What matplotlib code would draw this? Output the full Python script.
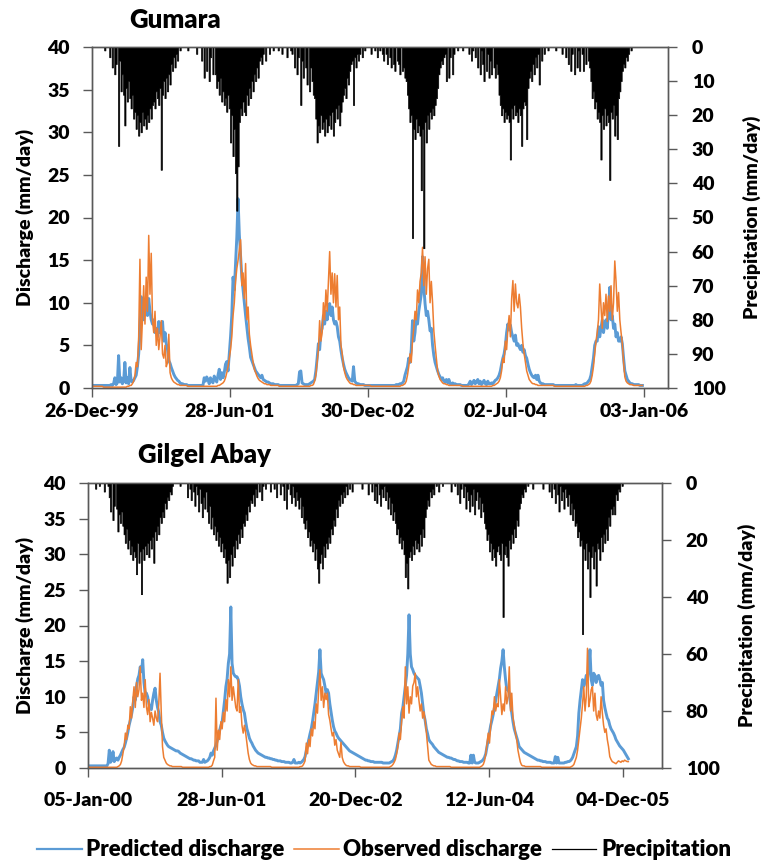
import numpy as np
import matplotlib
matplotlib.use("Agg")
import matplotlib.pyplot as plt
import matplotlib.dates as mdates
from matplotlib.lines import Line2D

plt.rcParams['font.family'] = ['Lato', 'DejaVu Sans']
plt.rcParams['font.weight'] = 'heavy'

BLUE = '#5B9BD5'
ORANGE = '#ED7D31'
SPINE = '#595959'

years = [2000, 2001, 2002, 2003, 2004, 2005]
step = 5  # one reading every 5 days, starting 1 Jan of each year

# ---------------- Gumara ----------------
gum_pred = [
    [0.3,0.3,0.3,0.3,0.3,0.3, 0.3,0.3,0.3,0.3,0.3,0.3, 0.3,0.3,0.4,0.3,0.5,1.2, 0.4,0.6,3.8,0.7,1.2,0.5,
     0.8,3.0,0.6,1.2,0.5,2.4, 0.8,0.7,0.9,1.2,1.5,2.5, 4.0,6.5,10.7,9.0,8.0,9.5, 10.2,8.5,10.5,9.0,8.0,7.5,
     8.0,6.5,7.0,6.0,7.8,6.5, 7.5,7.8,5.5,6.5,5.2,4.5, 3.2,2.9,2.4,2.0,1.6,1.3, 1.1,0.9,0.8,0.6,0.5,0.5, 0.4],
    [0.4,0.4,0.3,0.3,0.3,0.3, 0.3,0.3,0.3,0.3,0.3,0.3, 0.3,0.3,0.3,1.2,0.8,1.3, 1.0,0.5,1.2,0.8,0.6,1.4,
     1.0,0.7,1.5,2.2,1.0,1.8, 1.2,1.8,2.8,3.1,2.0,4.0, 6.0,8.5,13.0,11.5,14.5,17.7, 22.2,18.0,15.4,13.0,11.5,10.0,
     8.5,7.2,5.8,4.8,3.6,3.2, 2.8,2.4,2.0,1.8,1.6,1.4, 1.2,1.5,1.0,0.9,0.8,0.7, 0.7,0.6,0.5,0.5,0.5,0.4, 0.4],
    [0.4,0.4,0.3,0.3,0.3,0.3, 0.3,0.3,0.3,0.3,0.3,0.3, 0.3,0.3,0.3,0.3,0.4,0.5, 1.9,2.0,0.6,0.5,0.4,0.4,
     0.4,0.4,0.5,0.6,0.7,0.8, 1.0,2.0,3.5,5.2,4.5,6.5, 7.0,8.5,7.5,9.0,8.0,9.5, 9.9,8.5,9.5,8.0,7.5,7.8,
     7.2,6.0,5.5,4.4,3.5,2.8, 2.2,1.8,1.5,1.2,1.0,0.9, 0.8,2.5,0.8,0.6,0.5,0.5, 0.4,0.4,0.4,0.4,0.3,0.3, 0.3],
    [0.3,0.3,0.3,0.3,0.3,0.3, 0.3,0.3,0.3,0.3,0.3,0.3, 0.3,0.3,0.3,0.3,0.3,0.3, 0.3,0.3,0.3,0.3,0.4,0.4,
     0.4,0.5,0.5,0.6,0.8,1.5, 2.0,2.5,3.5,3.0,4.5,7.9, 5.5,6.5,8.5,7.5,9.0,10.0, 11.0,15.4,12.0,9.9,8.5,9.0,
     8.0,6.7,7.0,5.0,3.8,3.0, 2.5,2.0,1.6,1.3,1.0,1.2, 0.8,0.7,1.0,0.6,1.0,0.5, 0.5,0.6,0.4,0.5,0.4,0.4, 0.4],
    [0.4,0.3,0.3,0.3,0.3,0.3, 0.3,0.5,0.8,0.4,0.6,0.9, 0.5,0.7,1.0,0.5,0.8,0.4, 0.6,0.9,0.5,0.4,0.8,0.5,
     0.5,0.6,0.5,0.7,0.9,1.0, 1.2,1.5,2.0,2.8,3.5,4.0, 5.0,6.5,7.5,6.8,7.4,6.5, 6.0,5.5,6.2,5.0,5.2,4.8,
     4.5,5.0,4.2,4.5,3.8,3.5, 2.8,2.2,1.8,1.5,1.3,1.2, 1.5,1.0,1.5,0.8,0.6,0.5, 0.5,0.4,0.4,0.4,0.4,0.4, 0.4],
    [0.4,0.4,0.3,0.3,0.3,0.3, 0.3,0.3,0.3,0.3,0.3,0.3, 0.3,0.3,0.3,0.3,0.3,0.3, 0.3,0.4,0.3,0.3,0.3,0.3,
     0.3,0.4,0.5,0.5,0.6,0.8, 1.0,1.5,2.5,3.5,5.0,5.5, 5.5,7.2,6.0,7.0,8.0,6.5, 7.5,8.0,7.0,9.0,11.8,8.0,
     8.5,7.0,7.5,6.0,6.5,5.5, 5.5,6.0,5.2,3.5,2.0,1.5, 1.0,0.8,0.6,0.5,0.5,0.4, 0.4,0.4,0.4,0.4,0.3,0.3, 0.3],
]
gum_obs = [
    [0.2,0.2,0.2,0.2,0.2,0.2, 0.2,0.2,0.1,0.1,0.1,0.1, 0.1,0.1,0.1,0.1,0.1,0.1, 0.1,0.1,0.1,0.1,0.1,0.1,
     0.1,0.1,0.1,0.2,0.2,0.3, 0.3,0.5,0.8,1.5,3.0,2.5, 6.0,15.1,4.5,8.0,12.0,7.5, 13.0,9.0,17.9,11.0,15.8,8.0,
     6.5,9.0,5.0,7.0,4.5,6.0, 7.9,4.0,3.5,5.0,2.5,3.0, 6.3,1.8,1.2,0.9,0.7,0.6, 0.5,0.4,0.4,0.3,0.3,0.3, 0.3],
    [0.3,0.3,0.2,0.2,0.2,0.2, 0.2,0.2,0.2,0.2,0.2,0.2, 0.2,0.2,0.2,0.2,0.2,0.2, 0.2,0.2,0.2,0.2,0.2,0.2,
     0.2,0.2,0.3,0.3,0.4,0.5, 0.6,0.8,1.2,1.8,2.5,3.5, 4.5,6.0,8.5,10.0,12.5,14.0, 15.0,16.2,17.4,12.0,13.5,10.5,
     14.6,8.0,9.5,6.3,5.0,4.0, 3.0,2.2,1.8,1.4,1.1,0.9, 0.8,0.7,0.6,0.5,0.5,0.4, 0.4,0.4,0.3,0.3,0.3,0.3, 0.3],
    [0.3,0.3,0.2,0.2,0.2,0.2, 0.2,0.2,0.2,0.2,0.2,0.2, 0.2,0.2,0.2,0.2,0.2,0.2, 0.2,0.2,0.2,0.2,0.2,0.2,
     0.2,0.2,0.2,0.3,0.3,0.4, 0.8,1.5,3.0,4.5,7.9,5.5, 6.5,10.0,8.0,11.5,9.0,12.5, 16.0,11.0,13.5,10.0,13.4,9.5,
     13.2,8.0,9.5,5.0,4.0,2.5, 1.8,1.3,1.0,0.8,0.6,0.5, 0.5,0.4,0.4,0.3,0.3,0.3, 0.3,0.3,0.3,0.3,0.3,0.3, 0.3],
    [0.3,0.3,0.2,0.2,0.2,0.2, 0.2,0.2,0.2,0.2,0.2,0.2, 0.2,0.2,0.2,0.2,0.2,0.2, 0.2,0.2,0.2,0.2,0.2,0.2,
     0.2,0.2,0.3,0.3,0.4,0.5, 0.8,1.5,2.5,4.0,3.0,5.5, 7.0,9.0,8.0,11.5,10.0,12.5, 13.5,16.5,12.0,15.4,11.0,14.0,
     15.1,10.0,12.5,10.0,6.7,5.0, 3.5,2.0,1.4,1.0,0.8,0.6, 0.5,0.5,0.4,0.4,0.3,0.3, 0.3,0.3,0.3,0.3,0.3,0.3, 0.3],
    [0.3,0.3,0.2,0.2,0.2,0.2, 0.2,0.2,0.2,0.2,0.2,0.2, 0.2,0.2,0.2,0.2,0.2,0.2, 0.2,0.2,0.2,0.2,0.2,0.2,
     0.2,0.2,0.3,0.3,0.4,0.5, 0.6,0.8,1.2,2.0,3.5,3.0, 5.5,4.5,7.0,8.5,6.0,10.5, 12.6,9.0,12.2,10.0,9.4,11.0,
     9.5,7.0,5.2,4.0,3.0,2.0, 1.5,1.0,0.8,0.6,0.5,0.5, 0.4,0.4,0.3,0.3,0.3,0.3, 0.3,0.3,0.3,0.3,0.3,0.3, 0.3],
    [0.3,0.3,0.2,0.2,0.2,0.2, 0.2,0.2,0.2,0.2,0.2,0.2, 0.2,0.2,0.2,0.2,0.2,0.2, 0.2,0.2,0.2,0.2,0.2,0.2,
     0.2,0.2,0.2,0.3,0.3,0.4, 0.5,0.8,1.5,2.5,4.0,5.5, 6.5,8.0,12.2,9.5,7.0,10.0, 8.5,11.0,7.8,10.8,9.0,12.0,
     8.0,10.0,14.9,12.5,9.0,11.2, 8.0,6.5,5.2,3.0,1.3,0.8, 0.6,0.5,0.4,0.4,0.4,0.3, 0.3,0.3,0.3,0.3,0.3,0.3, 0.3],
]
gum_rain = [
    [0,0,0,0,0,0, 0,0,0,1,0,0, 0,3,0,6,0,8, 5,0,29,4,13,8, 14,23,12,16,10,15, 18,14,21,19,24,20,
     26,22,25,19,23,21, 24,20,22,18,21,17, 16,18,13,15,17,12, 36,14,10,15,9,13, 8,11,5,7,3,6, 2,4,0,1,0,0, 0],
    [0,0,1,0,0,0, 0,0,0,2,0,0, 0,4,0,9,0,7, 0,10,3,0,8,0, 8,12,10,14,9,16, 13,17,15,19,14,18,
     28,20,32,24,37,48, 35,22,18,20,16,19, 20,14,17,12,15,10, 13,8,10,6,9,4, 3,5,2,0,4,0, 0,2,0,0,1,0, 0],
    [0,1,0,0,2,0, 0,0,3,0,0,1, 2,0,6,0,8,3, 0,17,4,9,0,6, 11,0,13,6,10,14, 15,21,28,23,25,20,
     24,22,26,21,25,23, 20,24,19,26,22,18, 21,17,23,19,16,14, 12,15,9,11,7,5, 4,17,3,6,2,4, 2,0,3,0,1,0, 0],
    [0,0,2,0,0,1, 0,3,0,1,0,2, 4,0,2,5,0,3, 6,0,5,7,0,4, 5,8,0,7,6,9, 10,14,18,22,20,56,
     24,27,21,25,23,26, 42,24,59,22,28,20, 24,19,21,18,20,17, 15,12,8,6,4,5, 3,2,10,0,9,3, 0,8,2,0,0,1, 0],
    [0,0,1,0,0,0, 0,2,0,4,1,0, 3,0,6,0,8,1, 5,10,0,7,2,9, 4,8,0,6,9,5, 8,14,17,20,18,22,
     19,21,20,22,33,18, 21,17,20,19,22,18, 20,29,18,16,17,27, 12,9,7,10,5,8, 3,6,2,11,0,4, 0,2,0,0,1,0, 0],
    [0,0,0,1,0,0, 0,0,2,0,0,3, 0,5,0,7,2,0, 8,0,6,1,7,0, 2,7,0,5,0,4, 6,10,15,13,18,16,
     21,19,22,33,20,24, 18,23,20,22,39,19, 21,17,26,20,27,15, 13,10,7,5,6,3, 4,2,0,1,0,0, 0,0,0,0,0,0, 0],
]

# ---------------- Gilgel Abay ----------------
gil_pred = [
    [0.3,0.3,0.3,0.3,0.3,0.3, 0.3,0.3,0.3,0.3,0.3,0.3, 0.3,0.3,0.3,0.3,0.3,0.6, 2.5,0.8,1.1,2.3,0.9,1.2,
     1.4,1.1,1.5,1.8,2.2,2.6, 2.9,3.5,4.2,5.0,6.0,6.7, 7.5,8.5,10.0,9.5,11.5,12.5, 13.0,14.2,13.5,15.2,12.0,10.5,
     10.5,10.0,9.0,8.5,8.2,9.5, 10.5,11.2,9.5,8.5,7.8,6.5, 6.0,5.0,4.2,3.8,3.5,3.2, 3.0,2.9,2.8,2.7,2.6,2.5, 2.4],
    [2.4,2.3,2.1,2.0,1.9,1.8, 1.7,1.6,1.5,1.4,1.3,1.3, 1.2,1.1,1.1,1.0,1.0,1.0, 0.8,0.8,0.8,1.2,0.8,0.9,
     1.0,1.2,1.5,2.1,1.8,2.4, 2.8,3.2,3.8,4.5,5.3,6.0, 6.5,8.0,9.5,11.4,12.5,14.7, 16.0,22.6,14.7,13.3,13.0,12.8,
     12.8,12.4,11.5,10.0,9.0,8.2, 7.7,6.5,5.5,4.9,4.2,3.8, 3.5,3.1,2.8,2.5,2.3,2.1, 2.0,1.9,1.8,1.7,1.6,1.5, 1.5],
    [1.4,1.4,1.3,1.3,1.2,1.2, 1.1,1.1,1.0,1.0,1.0,0.9, 0.9,0.9,0.8,0.8,0.8,0.8, 0.7,0.7,0.8,1.2,0.7,0.7,
     0.7,0.8,0.7,0.8,1.0,1.2, 1.6,2.5,3.2,4.0,4.8,5.5, 6.5,7.7,9.0,10.5,12.0,13.5, 16.6,13.3,12.8,12.4,11.5,10.5,
     11.0,10.5,9.0,7.8,6.7,5.8, 5.2,4.9,4.5,4.2,4.0,3.8, 3.6,3.4,3.2,3.0,2.8,2.6, 2.4,2.3,2.2,2.1,2.0,1.9, 1.8],
    [1.7,1.6,1.5,1.4,1.3,1.2, 1.1,1.1,1.0,1.0,0.9,0.9, 0.9,0.8,0.8,0.8,0.8,0.8, 0.8,0.8,0.7,0.7,0.7,0.7,
     0.7,0.7,0.8,0.9,1.0,1.3, 1.8,2.5,3.5,4.5,5.5,7.7, 8.5,10.0,11.4,13.0,16.0,21.5, 16.0,14.2,13.8,13.3,13.0,12.8,
     12.6,12.4,11.5,10.5,9.0,7.5, 6.7,5.5,4.8,4.0,3.7,3.5, 3.3,3.0,2.8,2.6,2.4,2.2, 2.1,2.0,1.9,1.8,1.7,1.6, 1.5],
    [1.5,1.4,1.4,1.3,1.2,1.2, 1.1,1.0,1.0,0.9,0.9,0.9, 0.8,0.8,0.8,0.8,0.7,0.7, 1.8,0.7,1.8,0.8,0.7,0.7,
     0.7,0.8,0.9,1.0,1.2,1.5, 2.0,3.0,4.0,5.0,6.0,6.7, 7.5,8.5,9.5,10.5,11.5,12.5, 14.0,15.0,16.6,14.2,12.4,11.0,
     11.0,10.5,9.0,7.7,6.5,5.5, 4.9,4.3,3.7,3.0,2.8,2.6, 2.4,2.2,2.1,2.0,1.9,1.8, 1.7,1.6,1.5,1.4,1.3,1.2, 1.1],
    [1.1,1.0,1.0,0.9,0.9,0.9, 0.8,0.8,0.8,0.8,0.7,0.7, 0.7,1.6,0.7,1.5,0.7,0.7, 0.7,0.7,0.7,0.8,0.8,0.9,
     0.9,1.0,1.2,1.5,2.0,2.5, 3.0,4.5,7.7,9.5,11.0,12.4, 11.5,12.0,13.0,12.5,14.0,16.6, 12.4,11.6,13.3,13.0,12.0,12.8,
     13.0,12.4,11.6,12.0,9.5,8.5, 7.7,7.0,6.7,6.0,5.5,5.2, 4.9,4.5,4.0,3.7,3.4,3.1, 2.9,2.7,2.5,2.2,1.9,1.6, 1.3],
]
gil_obs = [
    [0.2,0.2,0.1,0.1,0.1,0.1, 0.1,0.1,0.1,0.1,0.1,0.1, 0.1,0.1,0.1,0.1,0.1,0.1, 0.1,0.1,0.1,0.1,0.1,0.1,
     0.1,0.2,0.3,0.5,1.0,2.0, 3.0,4.9,4.0,6.0,5.5,8.6, 7.0,9.5,11.4,8.5,12.0,10.0, 11.0,14.2,9.5,10.5,8.5,12.4,
     8.6,7.5,9.6,6.5,7.8,7.0, 6.0,8.0,7.0,6.5,9.0,13.3, 7.8,3.0,1.5,1.1,0.7,0.5, 0.4,0.3,0.3,0.2,0.2,0.2, 0.2],
    [0.2,0.2,0.2,0.2,0.1,0.1, 0.1,0.1,0.1,0.1,0.1,0.1, 0.1,0.1,0.1,0.1,0.1,0.1, 0.1,0.1,0.1,0.1,0.1,0.1,
     0.1,0.1,0.2,0.2,0.4,1.0, 1.5,9.8,2.5,5.3,4.0,6.5, 5.5,7.8,6.5,9.6,8.0,12.4, 10.0,14.2,9.5,11.4,10.0,8.5,
     8.0,12.4,7.8,8.6,6.0,4.9, 6.0,4.9,3.5,2.1,1.2,0.7, 0.5,0.4,0.3,0.3,0.2,0.2, 0.2,0.2,0.2,0.2,0.2,0.2, 0.2],
    [0.2,0.2,0.2,0.1,0.1,0.1, 0.1,0.1,0.1,0.1,0.1,0.1, 0.1,0.1,0.1,0.1,0.1,0.1, 0.1,0.1,0.1,0.1,0.1,0.1,
     0.1,0.1,0.2,0.2,0.3,0.6, 1.0,3.5,2.0,4.0,3.0,5.5, 4.5,6.5,5.5,9.0,7.7,11.0, 13.8,9.5,11.4,8.5,10.5,9.6,
     10.5,7.5,6.7,5.5,4.5,5.0, 3.2,4.0,2.5,2.0,1.5,3.6, 1.5,0.9,0.6,0.4,0.3,0.3, 0.2,0.2,0.2,0.2,0.2,0.2, 0.2],
    [0.2,0.2,0.1,0.1,0.1,0.1, 0.1,0.1,0.1,0.1,0.1,0.1, 0.1,0.1,0.1,0.1,0.1,0.1, 0.1,0.1,0.1,0.1,0.1,0.1,
     0.1,0.1,0.2,0.3,0.5,0.8, 1.2,2.0,3.0,4.9,4.0,6.5, 8.6,7.0,14.2,9.0,11.4,7.7, 10.0,9.0,11.5,12.0,13.3,10.0,
     11.4,9.5,8.0,9.0,7.0,7.9, 6.7,5.0,3.0,1.1,0.8,0.5, 0.4,0.3,0.3,0.2,0.2,0.2, 0.2,0.2,0.2,0.2,0.2,0.2, 0.2],
    [0.2,0.2,0.1,0.1,0.1,0.1, 0.1,0.1,0.1,0.1,0.1,0.1, 0.1,0.1,0.1,0.1,0.1,0.1, 0.1,0.1,0.1,0.1,0.1,0.1,
     0.1,0.1,0.2,0.3,0.5,1.0, 2.0,3.5,4.9,3.5,6.0,8.0, 7.5,10.0,8.0,9.0,8.6,12.4, 10.0,7.5,9.0,8.0,11.4,9.0,
     10.0,14.2,8.0,10.5,7.0,6.0, 4.9,4.0,2.5,1.6,0.8,0.4, 0.3,0.3,0.2,0.2,0.2,0.2, 0.2,0.2,0.2,0.2,0.2,0.2, 0.2],
    [0.2,0.2,0.1,0.1,0.1,0.1, 0.1,0.1,0.1,0.1,0.1,0.1, 0.1,0.1,0.1,0.1,0.1,0.1, 0.1,0.1,0.1,0.1,0.1,0.1,
     0.1,0.1,0.2,0.3,0.5,1.0, 1.5,2.5,4.0,5.6,7.0,9.0, 11.4,8.0,10.0,16.8,8.6,9.5, 11.0,11.4,8.0,10.5,7.5,6.7,
     8.0,7.0,10.0,7.7,6.0,5.0, 5.5,4.0,3.0,1.6,1.2,0.9, 0.8,0.7,0.6,0.8,1.0,0.9, 0.8,1.0,0.9,1.1,1.0,0.9, 0.9],
]
gil_rain = [
    [0,0,0,0,0,0, 0,2,0,0,1,0, 0,0,3,0,0,1, 5,10,0,13,8,0, 9,17,11,14,10,15, 18,21,16,23,20,25,
     22,27,24,26,32,21, 28,24,39,23,27,22, 25,21,26,20,23,19, 28,17,20,15,18,12, 14,10,12,7,9,5, 6,3,4,1,0,0, 0],
    [0,0,1,0,0,0, 0,0,5,0,2,6, 0,3,8,1,4,10, 2,7,12,5,9,3, 10,14,8,16,12,18, 15,20,17,22,19,24,
     21,26,23,28,35,27, 33,25,29,22,26,20, 23,18,21,16,19,14, 15,11,13,8,10,6, 7,4,8,2,5,0, 3,0,6,1,0,2, 0],
    [0,0,3,0,0,2, 0,5,0,0,4,0, 1,6,0,9,2,0, 4,7,1,5,8,3, 6,9,5,12,8,14, 16,13,19,17,22,20,
     24,21,27,23,30,35, 28,25,30,22,26,21, 23,19,21,16,18,13, 15,9,12,6,8,4, 7,3,5,1,4,0, 2,0,3,0,0,0, 0],
    [0,0,0,2,0,0, 0,0,4,0,0,3, 0,6,1,7,0,4, 8,2,5,1,6,3, 9,5,11,7,13,10, 14,18,16,21,19,23,
     20,25,33,28,37,26, 24,27,22,25,20,23, 21,24,18,22,16,19, 12,9,6,8,3,5, 2,4,0,1,0,3, 0,0,1,0,0,0, 0],
    [0,0,3,0,0,1, 0,4,0,7,2,0, 5,1,9,3,6,10, 4,8,2,11,6,3, 9,5,12,7,10,14, 16,20,18,24,21,27,
     23,26,29,24,22,25, 27,21,47,25,22,26, 29,20,23,18,21,16, 19,13,15,9,7,4, 5,2,3,0,1,0, 0,0,2,0,0,0, 0],
    [0,0,0,2,0,0, 0,0,3,0,5,0, 2,7,0,4,10,1, 6,3,9,2,5,8, 4,11,7,13,9,15, 14,19,17,22,20,53,
     23,27,21,30,24,40, 26,22,30,24,36,21, 23,27,19,24,18,21, 16,20,12,15,9,11, 8,11,4,6,2,3, 0,1,0,0,0,0, 0],
]

gum_ticks = ['1999-12-26', '2001-06-28', '2002-12-30', '2004-07-02', '2006-01-03']
gil_ticks = ['2000-01-05', '2001-06-28', '2002-12-20', '2004-06-12', '2005-12-04']


def to_series(rows):
    xs, ys = [], []
    for year, row in zip(years, rows):
        start = np.datetime64(f'{year}-01-01')
        xs.append(start + np.arange(len(row)) * np.timedelta64(step, 'D'))
        ys.append(np.asarray(row, dtype=float))
    return np.concatenate(xs), np.concatenate(ys)


def draw_panel(ax, pred, obs, rain, ticks, x_end, rain_step, xpad):
    ax2 = ax.twinx()
    x, y = to_series(pred)
    ax.plot(x, y, color=BLUE, lw=2.1, zorder=2)
    x, y = to_series(obs)
    ax.plot(x, y, color=ORANGE, lw=1.1, zorder=3)
    x, y = to_series(rain)
    # each reading drawn as a narrow column hanging from the top axis
    ax2.fill_between(x, 0, y, step='mid', color='black', lw=0.5, edgecolor='black')

    tick_dates = np.array(ticks, dtype='datetime64[D]')
    ax.set_xlim(tick_dates[0], np.datetime64(x_end))
    ax.set_xticks(tick_dates)
    ax.xaxis.set_major_formatter(mdates.DateFormatter('%d-%b-%y'))

    ax.set_ylim(0, 40)
    ax.set_yticks(range(0, 41, 5))
    ax2.set_ylim(100, 0)
    ax2.set_yticks(range(0, 101, rain_step))

    for a in (ax, ax2):
        for s in a.spines.values():
            s.set_color(SPINE)
            s.set_linewidth(1.0)
        a.tick_params(direction='out', length=6.5, width=1, color=SPINE,
                      labelsize=14, labelcolor='black')
    ax.tick_params(axis='y', pad=9.5)
    ax2.tick_params(axis='y', pad=10.5)
    ax.tick_params(axis='x', pad=xpad)


fig = plt.figure(figsize=(7.62, 8.61), dpi=100)
W, H = 762, 861

ax_top = fig.add_axes([92 / W, 1 - 388 / H, 576 / W, 341 / H])
draw_panel(ax_top, gum_pred, gum_obs, gum_rain, gum_ticks, '2006-04-08', 10, 4.5)

ax_bot = fig.add_axes([88 / W, 1 - 768 / H, 574 / W, 285 / H])
draw_panel(ax_bot, gil_pred, gil_obs, gil_rain, gil_ticks, '2006-05-12', 20, 10.5)

fig.text(175 / W, 1 - 20 / H, 'Gumara', ha='center', va='center', fontsize=18.5)
fig.text(205 / W, 1 - 455 / H, 'Gilgel Abay', ha='center', va='center', fontsize=18.5)

for yc in (217.5, 625.5):
    fig.text(25 / W, 1 - yc / H, 'Discharge (mm/day)', rotation=90, ha='center', va='center',
             fontsize=14)
fig.text(752 / W, 1 - 217.5 / H, 'Precipitation (mm/day)', rotation=90, ha='center', va='center',
         fontsize=14)
fig.text(747 / W, 1 - 625.5 / H, 'Precipitation (mm/day)', rotation=90, ha='center', va='center',
         fontsize=14)

handles = [Line2D([], [], color=BLUE, lw=1.6),
           Line2D([], [], color=ORANGE, lw=1.1),
           Line2D([], [], color='black', lw=0.9)]
fig.legend(handles, ['Predicted discharge', 'Observed discharge', 'Precipitation'],
           loc='center', bbox_to_anchor=(384 / W, 1 - 850 / H), ncol=3, frameon=False,
           fontsize=16, handlelength=2.0, handletextpad=0.2, columnspacing=0.45)

fig.savefig('out.png', dpi=100)
